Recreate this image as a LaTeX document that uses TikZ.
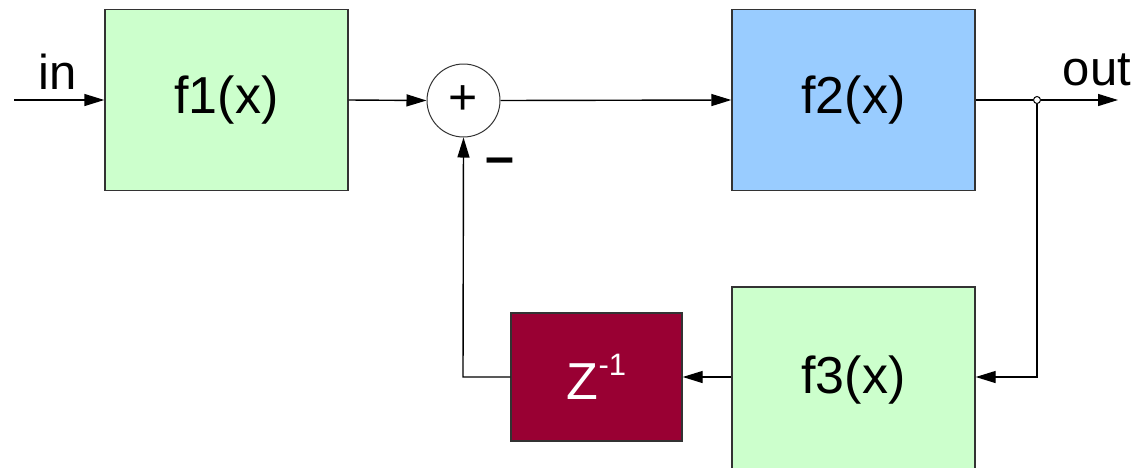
\documentclass[tikz,border=0pt]{standalone}
\usepackage{fontspec}
\setmainfont{Liberation Sans}
\usetikzlibrary{arrows.meta}
\definecolor{boxgreen}{HTML}{CCFFCC}
\definecolor{boxblue}{HTML}{99CCFF}
\definecolor{boxred}{HTML}{990033}
\definecolor{edge}{HTML}{333333}
\tikzset{
  block/.style={draw=edge, line width=1.4pt, minimum width=243pt, minimum height=181pt, inner sep=0pt,
    font=\fontsize{52}{62}\selectfont},
  sig/.style={line width=1.4pt, -{Triangle[length=20pt,width=12pt]}},
  wire/.style={line width=1.4pt},
  lbl/.style={font=\fontsize{49}{58}\selectfont, anchor=base, inner sep=0pt},
}
\begin{document}
\begin{tikzpicture}[x=1pt,y=-1pt]
  \clip (0,0) rectangle (1138,467);
  \fill[white] (0,0) rectangle (1138,467);

  % blocks
  \node[block, fill=boxgreen] (f1) at (226.5,100) {f1(x)};
  \node[block, fill=boxblue]  (f2) at (853.5,100) {f2(x)};
  \node[block, fill=boxgreen, minimum height=186pt] (f3) at (853.5,380) {\raisebox{3pt}{f3(x)}};
  \node[block, fill=boxred, text=white, minimum width=171pt, minimum height=128pt] (z) at (596.5,377)
    {Z\raisebox{24pt}{\fontsize{31}{31}\selectfont -1}};

  % summing junction
  \node[circle, draw=edge, line width=1pt, fill=white, minimum size=73pt, inner sep=0pt,
    font=\fontsize{50}{50}\selectfont] (sum) at (463.5,100.5) {+};
  \node[font=\fontsize{52}{52}\selectfont\bfseries, inner sep=0pt] (minus) at (500,166) {–};

  % coordinates for wire ends and bends
  \coordinate (src) at (14,100);
  \coordinate (dst) at (1118,100);
  \node[circle, draw=black, fill=white, line width=1pt, minimum size=7pt, inner sep=0pt] (tap) at (1037,100) {};
  \coordinate (down) at (1037,377);
  \coordinate (back) at (463,377);

  % labels
  \node[lbl] (inlbl) at (58,89) {in};
  \node[lbl] (outlbl) at (1097,85) {out};

  % forward path
  \draw[sig] (src) -- (f1.west);
  \draw[sig] (f1.east) -- (sum.west);
  \draw[sig] (sum.east) -- (f2.west);
  \draw[wire] (f2.east) -- (tap.west);
  \draw[sig] (tap.east) -- (dst);

  % feedback path
  \draw[sig] (tap.south) -- (down) -- (f3.east |- down);
  \draw[sig] (f3.west |- z.east) -- (z.east);
  \draw[sig] (z.west) -- (back) -- (sum.south);
\end{tikzpicture}
\end{document}
